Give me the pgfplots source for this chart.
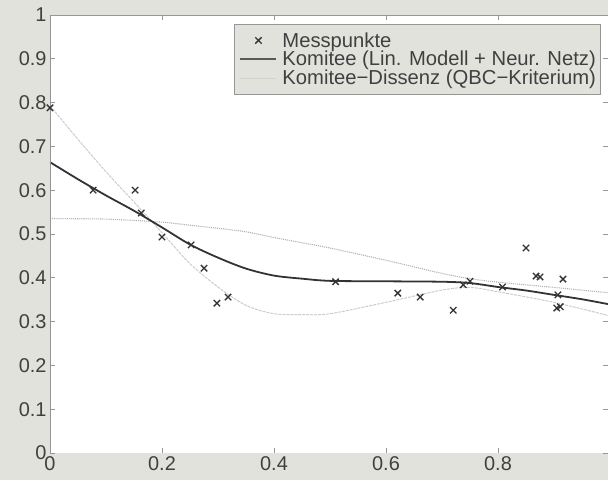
\documentclass[border=0pt]{standalone}
\usepackage{fontspec}
\setmainfont{Liberation Sans}
\usepackage{pgfplots}
\pgfplotsset{compat=1.18}
\definecolor{figbg}{RGB}{226,226,221}
\definecolor{axgray}{RGB}{150,150,150}
\pgfplotsset{
  lineleg/.style={legend image code/.code={\path[draw=none,fill=none] (0bp,0bp) -- (44bp,0bp); \draw[##1] (4bp,0bp) -- (40bp,0bp);}},
  markleg/.style={legend image code/.code={\path[draw=none,fill=none] (0bp,0bp) -- (44bp,0bp); \draw[##1] plot coordinates {(22bp,0bp)};}},
}
\begin{document}
\begin{tikzpicture}
\fill[figbg] (-50bp,-27bp) rectangle (558bp,453bp);
\begin{axis}[
  at={(0,0)}, anchor=south west,
  scale only axis, width=558bp, height=438bp,
  xmin=0, xmax=0.9964, ymin=0, ymax=1,
  axis background/.style={fill=white},
  axis line style={draw=none},
  xtick={0,0.2,0.4,0.6,0.8},
  xticklabels={0,0.2,0.4,0.6,0.8},
  ytick={0,0.1,0.2,0.3,0.4,0.5,0.6,0.7,0.8,0.9,1},
  yticklabels={0,0.1,0.2,0.3,0.4,0.5,0.6,0.7,0.8,0.9,1},
  tick align=inside,
  major tick length=5bp,
  tick style={axgray, line width=0.6pt},
  tick label style={font=\fontsize{20}{22}\selectfont, text=black!75},
  legend style={at={(rel axis cs:0.986,0.979)}, anchor=north east,
    fill=figbg, draw=axgray,
    font=\fontsize{20.3}{22}\selectfont, text=black!75,
    inner xsep=2bp, inner ysep=6bp, row sep=-1.2bp},
  legend cell align=left,
  clip=true,
]
% committee member 1 (linear model)
\addplot[forget plot, gray!60, densely dotted, line width=1.1pt, smooth] coordinates {
(0,0.535) (0.1,0.534) (0.2,0.527) (0.25,0.52) (0.3,0.513) (0.35,0.505) (0.4,0.492)
(0.45,0.48) (0.5,0.468) (0.6,0.44) (0.7,0.41) (0.75,0.398) (0.8,0.39) (0.9,0.378) (0.9964,0.366)};
% committee member 2 (neural net)
\addplot[forget plot, gray!40, dash pattern=on 3pt off 1pt, line width=1pt, smooth] coordinates {
(0,0.793) (0.05,0.716) (0.1,0.642) (0.15,0.573) (0.2,0.503) (0.25,0.432) (0.3,0.379)
(0.35,0.337) (0.4,0.318) (0.45,0.316) (0.5,0.318) (0.6,0.344) (0.7,0.372) (0.75,0.378)
(0.8,0.368) (0.9,0.344) (0.9964,0.314)};
% committee
\addplot[forget plot, black!80, line width=1.8pt, smooth] coordinates {
(0,0.664) (0.05,0.625) (0.1,0.588) (0.15,0.553) (0.2,0.515) (0.25,0.476) (0.3,0.446)
(0.35,0.421) (0.4,0.405) (0.45,0.398) (0.5,0.393) (0.6,0.392) (0.7,0.391) (0.75,0.388)
(0.8,0.379) (0.85,0.371) (0.9,0.361) (0.95,0.351) (0.9964,0.340)};
% measured points
\addplot[only marks, mark=x, mark size=4.5bp, black!80, line width=1.3pt, markleg] coordinates {
(0.000,0.788) (0.077,0.600) (0.152,0.600) (0.163,0.548) (0.200,0.493) (0.252,0.475)
(0.275,0.422) (0.298,0.342) (0.318,0.356) (0.510,0.391) (0.621,0.365) (0.661,0.356)
(0.720,0.326) (0.738,0.384) (0.750,0.392) (0.808,0.379) (0.850,0.468) (0.868,0.404)
(0.875,0.402) (0.916,0.397) (0.907,0.361) (0.905,0.331) (0.911,0.334)};
\addlegendentry{Messpunkte}
\addlegendimage{black!65, line width=2.2pt, lineleg}
\addlegendentry{Komitee (Lin. Modell + Neur. Netz)}
\addlegendimage{gray!35, line width=1.6pt, lineleg}
\addlegendentry{Komitee−Dissenz (QBC−Kriterium)}
\draw[axgray, line width=0.9pt] (rel axis cs:0,1) -- (rel axis cs:0,0) -- (rel axis cs:1,0);
\draw[axgray, line width=0.9pt] (rel axis cs:0,1) -- (rel axis cs:1,1);
\end{axis}
\pgfresetboundingbox
\path[use as bounding box] (-50bp,-27bp) rectangle (558bp,453bp);
\end{tikzpicture}
\end{document}
